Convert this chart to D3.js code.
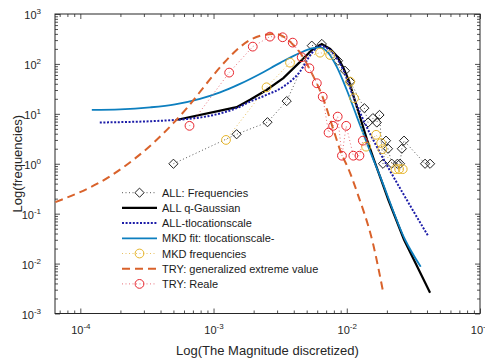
<!DOCTYPE html>
<html><head><meta charset="utf-8">
<script src="https://cdn.jsdelivr.net/npm/d3@7"></script>
<style>body{margin:0;background:#fff;overflow:hidden} text{font-family:"Liberation Sans",Arial,Helvetica,sans-serif}</style>
</head><body><svg id="c" width="485" height="360"></svg>
<script>
// ---- data ----
const allFreqX = [0.0005,0.00149,0.00254,0.00354,0.00546,0.0065,0.0086,0.0097,0.0106,0.01355,0.01445,0.0157,0.0168,0.0176,0.0187,0.0197,0.0204,0.0218,0.024,0.0251,0.0259,0.0269,0.0387,0.0422];
const allFreqY = [1,3.9,6.8,18,232,251,116,73,44,13,6.7,8.2,6.7,9.5,1,2.9,2.0,1,1,1,2.0,2.9,1,1];

const qGaussX = [0.000535,0.00149,0.00188,0.0025,0.00334,0.00446,0.00546,0.00649,0.0075,0.0085,0.0094,0.0104,0.0114,0.0126,0.0142,0.016,0.0181,0.0205,0.0269,0.0422];
const qGaussY = [7.6,13.6,19.1,30,52,110,190,251,200,140,85,45,20,8.5,3.0,1.2,0.48,0.19,0.03,0.0026];

const tlocX = [0.00014,0.000535,0.00149,0.00188,0.0025,0.00334,0.00445,0.00546,0.0063,0.0079,0.0094,0.0112,0.0133,0.0168,0.026,0.041];
const tlocY = [6.7,7.6,13,17.6,24,35,70,164,229,164,76,22,7.6,2.2,0.275,0.035];

const mkdFitX = [0.000122,0.000199,0.000334,0.000514,0.00079,0.00112,0.00158,0.00223,0.00316,0.00446,0.00548,0.00619,0.0073,0.0084,0.01,0.0119,0.0145,0.0178,0.0274,0.0359];
const mkdFitY = [12,12.3,13.5,15.5,20,26.9,39.8,63,105,166,204,214,164,88,30,8.8,2.2,0.56,0.030,0.0086];

const mkdFreqX = [0.00124,0.0025,0.00375,0.0063,0.0075,0.0106,0.01135,0.01396,0.0166,0.0181,0.0185,0.0232,0.0247,0.0263];
const mkdFreqY = [3.0,34,106,168,151,44,20.6,2.2,3.8,2.6,1.96,0.78,0.78,0.78];

const gevX = [6.5e-5,1.67e-4,2.5e-4,3.53e-4,4.99e-4,6.46e-4,8.9e-4,1.19e-3,1.49e-3,1.88e-3,2.37e-3,2.9e-3,3.3e-3,3.97e-3,4.59e-3,5.15e-3,5.78e-3,6.5e-3,7.94e-3,8.9e-3,0.0106,0.012,0.0158,0.0188];
const gevY = [0.17,0.56,1.2,2.6,6.5,14,41,103,190,302,380,400,360,240,151,88,48,24,4.8,1.9,0.65,0.26,0.024,0.0026];

const realeX = [6.6e-4,1.31e-3,1.97e-3,2.65e-3,3.3e-3,3.93e-3,4.59e-3,5.24e-3,5.96e-3,6.6e-3,7.3e-3,7.9e-3,8.55e-3,9.2e-3,9.9e-3,0.0112,0.01245,0.0132];
const realeY = [5.75,67,222,352,342,267,136,82,41,22,4.2,5.75,8.8,1.45,5.75,1.45,1.45,2.9];

const xMajor = [-4,-3,-2,-1];
const yMajor = [-3,-2,-1,0,1,2,3];
const legendLabels = ["ALL: Frequencies","ALL q-Gaussian","ALL-tlocationscale","MKD fit: tlocationscale-","MKD frequencies","TRY: generalized extreme value","TRY: Reale"];

// ---- layout ----
const L=55,R=480,T=14,B=313.5;
const svg = d3.select("#c");
const x = d3.scaleLog().domain([Math.pow(10,-4.19),0.1]).range([L,R]);
const y = d3.scaleLog().domain([1e-3,1e3]).range([B,T]);
const axCol = "#262626";

function minors(dom){
  const out=[];
  const lo=Math.floor(Math.log10(dom[0])), hi=Math.ceil(Math.log10(dom[1]));
  for(let d=lo; d<=hi; d++) for(let k=2;k<=9;k++){const v=k*Math.pow(10,d); if(v>=dom[0]&&v<=dom[1]) out.push(v);}
  return out;
}
const xMaj = xMajor.map(e=>Math.pow(10,e)), yMaj = yMajor.map(e=>Math.pow(10,e));
const xMin = minors(x.domain()), yMin = minors(y.domain());

function styleAxis(g){ g.select(".domain").remove(); g.selectAll("line").attr("stroke",axCol).attr("stroke-width",0.8); }
svg.append("g").attr("transform",`translate(0,${B})`).call(d3.axisBottom(x).tickValues(xMin).tickSize(-3).tickFormat("")).call(styleAxis);
const gb = svg.append("g").attr("transform",`translate(0,${B})`).call(d3.axisBottom(x).tickValues(xMaj).tickSize(-5).tickPadding(13)).call(styleAxis);
svg.append("g").attr("transform",`translate(0,${T})`).call(d3.axisTop(x).tickValues(xMin).tickSize(-3).tickFormat("")).call(styleAxis);
svg.append("g").attr("transform",`translate(0,${T})`).call(d3.axisTop(x).tickValues(xMaj).tickSize(-5).tickFormat("")).call(styleAxis);
svg.append("g").attr("transform",`translate(${L},0)`).call(d3.axisLeft(y).tickValues(yMin).tickSize(-3).tickFormat("")).call(styleAxis);
const gl = svg.append("g").attr("transform",`translate(${L},0)`).call(d3.axisLeft(y).tickValues(yMaj).tickSize(-5).tickPadding(12)).call(styleAxis);
svg.append("g").attr("transform",`translate(${R},0)`).call(d3.axisRight(y).tickValues(yMin).tickSize(-3).tickFormat("")).call(styleAxis);
svg.append("g").attr("transform",`translate(${R},0)`).call(d3.axisRight(y).tickValues(yMaj).tickSize(-5).tickFormat("")).call(styleAxis);

function supLabel(sel){
  sel.selectAll(".tick text").each(function(d){
    const t=d3.select(this); const e=Math.round(Math.log10(d));
    t.text(null).attr("fill",axCol).attr("font-size",11).attr("font-family",'"Liberation Sans",Arial,sans-serif');
    t.append("tspan").text("10");
    t.append("tspan").attr("font-size",8).attr("dy",-5).text(e);
  });
}
supLabel(gb); supLabel(gl);
gb.selectAll(".tick text").attr("dy","0.71em");
gl.selectAll(".tick text").attr("dx",-2).attr("dy","0.45em");

svg.append("rect").attr("x",L).attr("y",T).attr("width",R-L).attr("height",B-T).attr("fill","none").attr("stroke",axCol).attr("stroke-width",1);

svg.append("text").attr("x",(L+R)/2).attr("y",355).attr("text-anchor","middle").attr("font-size",13).attr("fill",axCol).text("Log(The Magnitude discretized)");
svg.append("text").attr("transform",`translate(22,${(T+B)/2}) rotate(-90)`).attr("text-anchor","middle").attr("font-size",13).attr("fill",axCol).text("Log(frequencies)");

// ---- data plotting ----
svg.append("clipPath").attr("id","clp").append("rect").attr("x",L).attr("y",T).attr("width",R-L).attr("height",B-T);
const plot = svg.append("g").attr("clip-path","url(#clp)");
const line = d3.line().x(d=>x(d[0])).y(d=>y(d[1]));
const smooth = d3.line().x(d=>x(d[0])).y(d=>y(d[1])).curve(d3.curveMonotoneX);
const zip=(a,b)=>a.map((v,i)=>[v,b[i]]);
const diamond = r=>`M0,${-r}L${r},0L0,${r}L${-r},0Z`;

const series = [
  {x:allFreqX,y:allFreqY,stroke:"#555",w:1,dash:"1,2.5",marker:"diamond",mc:"#222"},
  {x:qGaussX,y:qGaussY,stroke:"#000",w:2.2,dash:null},
  {x:tlocX,y:tlocY,stroke:"#1c1ca8",w:2,dash:"2,1.6",curve:true},
  {x:mkdFitX,y:mkdFitY,stroke:"#0d7fbf",w:1.8,dash:null,curve:true},
  {x:mkdFreqX,y:mkdFreqY,stroke:"#e8c060",w:1,dash:"1,2.5",marker:"circle",mc:"#e6b52a"},
  {x:gevX,y:gevY,stroke:"#d9622b",w:2,dash:"8,5",curve:true},
  {x:realeX,y:realeY,stroke:"#e8707a",w:1,dash:"1,2.5",marker:"circle",mc:"#e8262e"}
];
series.forEach(s=>{
  const data=zip(s.x,s.y);
  plot.append("path").attr("d",(s.curve?smooth:line)(data)).attr("fill","none").attr("stroke",s.stroke).attr("stroke-width",s.w).attr("stroke-dasharray",s.dash);
  if(s.marker==="diamond"){
    plot.selectAll(null).data(data).enter().append("path").attr("d",diamond(4.6)).attr("transform",d=>`translate(${x(d[0])},${y(d[1])})`).attr("fill","none").attr("stroke",s.mc).attr("stroke-width",1);
  } else if(s.marker==="circle"){
    plot.selectAll(null).data(data).enter().append("circle").attr("cx",d=>x(d[0])).attr("cy",d=>y(d[1])).attr("r",4.4).attr("fill","none").attr("stroke",s.mc).attr("stroke-width",1);
  }
});

// ---- legend ----
const lg = svg.append("g");
lg.append("rect").attr("x",116).attr("y",184).attr("width",210).attr("height",108).attr("fill","#fff");
legendLabels.forEach((lab,i)=>{
  const s=series[i]; const yy=192.7+i*15.2;
  lg.append("line").attr("x1",122).attr("x2",157).attr("y1",yy).attr("y2",yy).attr("stroke",s.stroke).attr("stroke-width",s.w).attr("stroke-dasharray",s.dash);
  if(s.marker==="diamond") lg.append("path").attr("d",diamond(4.6)).attr("transform",`translate(139.5,${yy})`).attr("fill","#fff").attr("stroke",s.mc);
  if(s.marker==="circle") lg.append("circle").attr("cx",139.5).attr("cy",yy).attr("r",4.4).attr("fill","none").attr("stroke",s.mc);
  lg.append("text").attr("x",162).attr("y",yy+4).attr("font-size",11).attr("fill","#1a1a1a").text(lab);
});
</script></body></html>
